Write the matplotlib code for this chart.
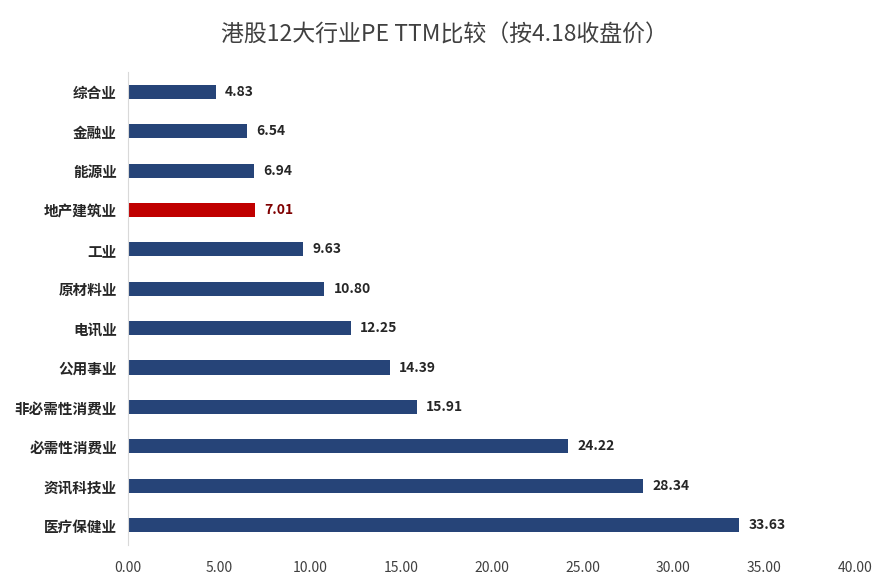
import matplotlib
matplotlib.use("Agg")
import matplotlib.pyplot as plt

plt.rcParams['font.family'] = ['Noto Sans CJK SC', 'DejaVu Sans']

industries = ["综合业", "金融业", "能源业", "地产建筑业", "工业", "原材料业", "电讯业",
              "公用事业", "非必需性消费业", "必需性消费业", "资讯科技业", "医疗保健业"]
pe_ttm = [4.83, 6.54, 6.94, 7.01, 9.63, 10.80, 12.25, 14.39, 15.91, 24.22, 28.34, 33.63]
highlight = "地产建筑业"

blue = "#264478"
red = "#C00000"

fig = plt.figure(figsize=(8.89, 5.82), dpi=100)
ax = fig.add_axes([0.144, 0.064, 0.818, 0.812])

pos = list(range(len(industries)))
colors = [red if name == highlight else blue for name in industries]
ax.barh(pos, pe_ttm, height=0.36, color=colors)

for p, v, name in zip(pos, pe_ttm, industries):
    c = "#7F0000" if name == highlight else "#262626"
    ax.text(v + 0.5, p, f"{v:.2f}", va="center", ha="left", fontsize=10,
            fontweight="bold", color=c)

ax.set_xlim(0, 40)
ax.set_ylim(len(industries) - 0.5, -0.5)
ax.set_xticks([0, 5, 10, 15, 20, 25, 30, 35, 40])
ax.set_xticklabels([f"{t:.2f}" for t in ax.get_xticks()], fontsize=10, color="#404040")
ax.set_yticks(pos)
ax.set_yticklabels(industries, fontsize=10.5, fontweight="bold", color="#262626")
ax.tick_params(length=0, pad=8)
ax.tick_params(axis="x", pad=12)

for s in ["top", "right", "bottom"]:
    ax.spines[s].set_visible(False)
ax.spines["left"].set_color("#D9D9D9")

fig.text(0.5, 0.94, "港股12大行业PE TTM比较（按4.18收盘价）", ha="center", va="center",
         fontsize=16.5, fontweight="medium", color="#404040")

fig.savefig("out.png", dpi=100)
